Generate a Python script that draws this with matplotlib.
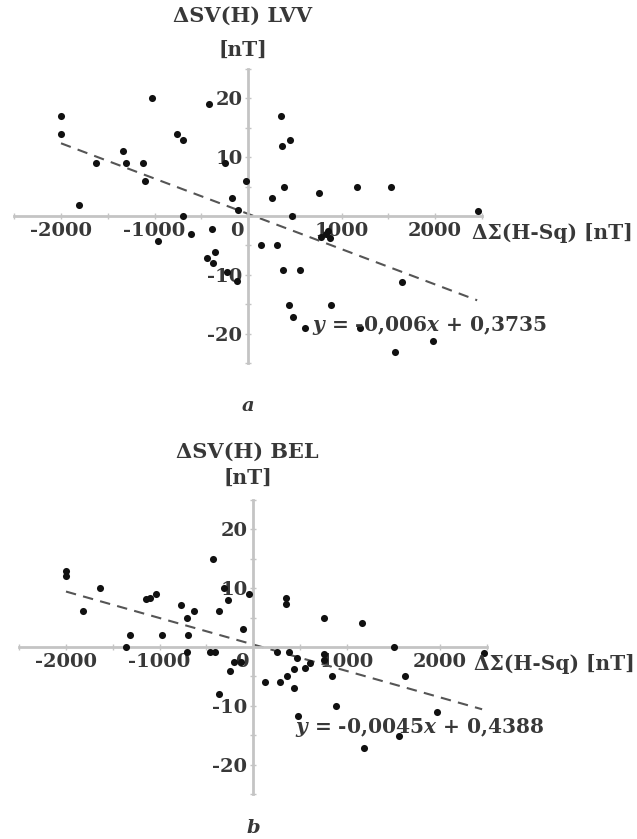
import matplotlib
matplotlib.use("Agg")
import numpy as np
import matplotlib.pyplot as plt
from matplotlib.transforms import ScaledTranslation

plt.rcParams['font.family'] = ['DejaVu Serif']
plt.rcParams['font.weight'] = 'bold'
plt.rcParams['mathtext.fontset'] = 'custom'
plt.rcParams['mathtext.rm'] = 'DejaVu Serif:bold'
plt.rcParams['mathtext.it'] = 'DejaVu Serif:italic:bold'

# panel a: LVV
x_lvv = [-2000, -2000, -1810, -1630, -1340, -1310, -1120, -1105, -1030, -960,
         -765, -695, -700, -615, -420, -390, -355, -435, -370, -245,
         -230, -120, -175, -105, -20,
         350, 360, 450, 380, 260, 470, 135, 310, 370, 560,
         435, 485, 610, 885, 760, 1165, 1525, 2455, 1650, 1195,
         1575, 1980, 780, 830, 880, 860]
y_lvv = [17.0, 14.0, 1.9, 9.0, 11.1, 9.0, 9.0, 6.0, 20.0, -4.2,
         14.0, 13.0, 0.0, -3.1, 19.0, -2.2, -6.1, -7.1, -8.0, 9.0,
         -9.5, -11.0, 3.0, 1.0, 6.0,
         17.0, 11.9, 13.0, 5.0, 3.0, 0.0, -5.0, -5.0, -9.2, -9.2,
         -15.1, -17.2, -19.1, -15.1, 4.0, 5.0, 5.0, 0.9, -11.2, -19.1,
         -23.2, -21.2, -3.5, -3.0, -3.8, -2.5]

# panel b: BEL
x_bel = [-2005, -2000, -1820, -1640, -1320, -1355, -1140, -1105, -1040, -975,
         -765, -710, -635, -695, -705, -460, -410, -430, -365, -265,
         -310, -40, -110, -250, -200, -130, -360, 130,
         355, 355, 760, 1165, 1505, 2465, 255, 380, 470, 560,
         610, 435, 360, 290, 435, 755, 755, 845, 890, 485,
         1630, 1970, 1185, 1560]
y_bel = [12.9, 12.0, 6.1, 10.1, 2.0, 0.0, 8.1, 8.3, 9.1, 2.0,
         7.1, 5.0, 6.1, 2.0, -0.9, -0.8, -0.8, 15.0, 6.1, 8.0,
         10.0, 9.1, 3.1, -4.0, -2.5, -2.5, -8.0, -6.0,
         8.3, 7.3, 5.0, 4.1, 0.0, -1.0, -0.8, -0.8, -1.9, -3.6,
         -2.7, -3.8, -4.9, -6.0, -7.0, -1.1, -2.2, -5.0, -10.0, -11.8,
         -4.9, -11.0, -17.2, -15.2]

slopes = [-0.006, -0.0045]
intercepts = [0.3735, 0.4388]
eq_labels = ["$y$ = -0,006$x$ + 0,3735", "$y$ = -0,0045$x$ + 0,4388"]
stations = ["LVV", "BEL"]
panel_letters = ["a", "b"]
x_ticks = [-2000, -1000, 0, 1000, 2000]
y_ticks = [-20, -10, 10, 20]

text_col = '#383838'
axis_col = '#c4c4c4'

fig = plt.figure(figsize=(6.37, 8.39), dpi=100)

# axes boxes (figure fractions), equation positions, text spacing
boxes = [[0.0224, 0.5673, 0.734, 0.3504], [0.0302, 0.0536, 0.734, 0.3504]]
eq_pos = [(684, -18.6), (449, -13.6)]
xlab_pos = [2390, 2360]
ylab_off = [(14, 38), (16, 35)]
letter_y = [0.510, 0.007]

for i, (xs, ys) in enumerate([(x_lvv, y_lvv), (x_bel, y_bel)]):
    ax = fig.add_axes(boxes[i])
    ax.set_xlim(-2500, 2500)
    ax.set_ylim(-25, 25)

    for s in ['top', 'right']:
        ax.spines[s].set_visible(False)
    for s in ['left', 'bottom']:
        ax.spines[s].set_position('zero')
        ax.spines[s].set_color(axis_col)
        ax.spines[s].set_linewidth(2)

    ax.set_xticks(x_ticks)
    ax.set_xticks(np.arange(-2500, 2501, 500), minor=True)
    ax.set_yticks(y_ticks)
    ax.set_yticks(np.arange(-25, 26, 5), minor=True)
    ax.tick_params(which='both', direction='inout', length=4, width=1,
                   color=axis_col, labelsize=14, labelcolor=text_col, pad=2)
    ax.set_xticklabels([str(v) for v in x_ticks])
    ax.set_yticklabels([str(v) for v in y_ticks])
    # shift the origin label to the left of the y axis
    zero_lab = ax.get_xticklabels()[2]
    zero_lab.set_transform(zero_lab.get_transform() +
                           ScaledTranslation(-8 / 72, 0, fig.dpi_scale_trans))

    ax.scatter(xs, ys, s=26, color='#111111', zorder=3, linewidths=0)

    xl = np.array([-2000, 2450])
    ax.plot(xl, slopes[i] * xl + intercepts[i], color='#555555', lw=1.5,
            dashes=(5, 3.5), zorder=2)

    ax.text(eq_pos[i][0], eq_pos[i][1], eq_labels[i], fontsize=14.5,
            color=text_col, ha='left', va='center')

    ax.annotate("ΔΣ(H-Sq) [nT]", xy=(xlab_pos[i], 0), xytext=(0, -5),
                textcoords='offset points', ha='left', va='top',
                fontsize=14.5, color=text_col)
    ax.annotate("[nT]", xy=(-60, 25), xytext=(0, ylab_off[i][0]),
                textcoords='offset points', ha='center', va='center',
                fontsize=14.5, color=text_col)
    ax.annotate("ΔSV(H) " + stations[i], xy=(-60, 25), xytext=(0, ylab_off[i][1]),
                textcoords='offset points', ha='center', va='center',
                fontsize=15, color=text_col)

    fig.text(boxes[i][0] + boxes[i][2] / 2, letter_y[i], panel_letters[i],
             fontsize=14, style='italic', color=text_col, ha='center')

fig.savefig("out.png", dpi=100)
